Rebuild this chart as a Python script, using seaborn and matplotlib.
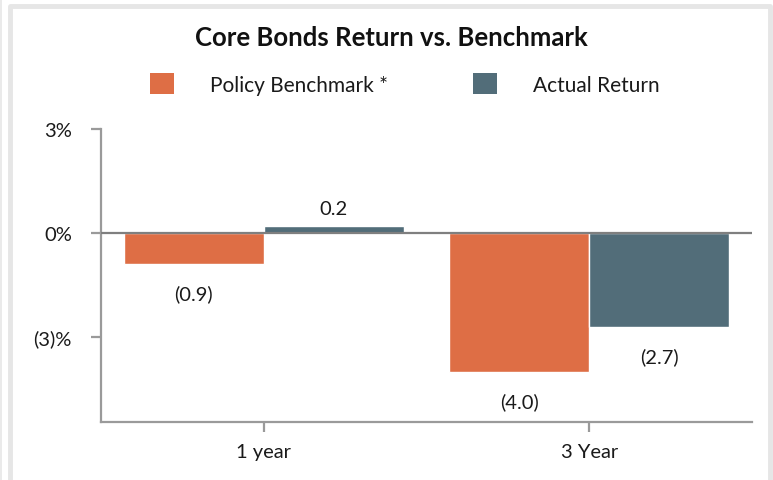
import numpy as np
import pandas as pd
import matplotlib
matplotlib.use('Agg')
import matplotlib.pyplot as plt
import seaborn as sns
from matplotlib.patches import Patch
from matplotlib.lines import Line2D

# chart data
periods = ['1 year', '3 Year']
series_names = ['Policy Benchmark *', 'Actual Return']
benchmark = [-0.9, -4.0]
actual = [0.2, -2.7]
y_ticks = [3, 0, -3]
y_tick_labels = ['3%', '0%', '(3)%']
colors = ['#DE6E45', '#526D79']

df = pd.DataFrame({
    'Period': periods * 2,
    'Series': [series_names[0]] * 2 + [series_names[1]] * 2,
    'Return': benchmark + actual,
})

sns.set_style('white')
plt.rcParams['font.family'] = ['Lato', 'DejaVu Sans']

W, H = 773, 481
fig = plt.figure(figsize=(W / 100, H / 100), dpi=100)
ax = fig.add_axes([101 / W, 1 - 423 / H, (752 - 101) / W, (423 - 130) / H])

sns.barplot(data=df, x='Period', y='Return', hue='Series', order=periods,
            hue_order=series_names, palette=colors, width=0.86, gap=0,
            saturation=1, errorbar=None, legend=False, ax=ax)

ax.set_xlim(-0.5, 1.5)
ax.set_ylim(-5.45, 3)
ax.axhline(0, color='#7f7f7f', lw=1.6, zorder=3)

# value labels
for cont in ax.containers:
    for p in cont.patches:
        v = p.get_height()
        txt = f'{v:.1f}' if v >= 0 else f'({abs(v):.1f})'
        off = 13 if v >= 0 else -21
        ax.annotate(txt, (p.get_x() + p.get_width() / 2, v), xytext=(0, off),
                    textcoords='offset points', ha='center', va='center',
                    fontsize=14.5, color='#1a1a1a')

ax.set_yticks(y_ticks)
ax.set_yticklabels(y_tick_labels)
ax.set_xlabel('')
ax.set_ylabel('')
for s in ['top', 'right']:
    ax.spines[s].set_visible(False)
for s in ['left', 'bottom']:
    ax.spines[s].set_color('#9a9a9a')
    ax.spines[s].set_linewidth(1.6)
ax.tick_params(axis='y', length=7, width=1.6, color='#9a9a9a', pad=14,
               labelsize=14.5, labelcolor='#1a1a1a', left=True)
ax.tick_params(axis='x', length=7, width=1.6, color='#9a9a9a', pad=8,
               labelsize=14.5, labelcolor='#1a1a1a', bottom=True)

# title and legend
fig.text(391 / W, 1 - 38 / H, 'Core Bonds Return vs. Benchmark', ha='center',
         va='center', fontsize=18.5, fontweight='bold', color='#111111')
handles = [Patch(facecolor=c, edgecolor='none') for c in colors]
fig.legend(handles, series_names, loc='center', bbox_to_anchor=(405 / W, 1 - 85 / H),
           ncol=2, frameon=False, fontsize=15, handlelength=1.15, handleheight=1.15,
           handletextpad=1.73, columnspacing=4.1, labelcolor='#1a1a1a')

# frame around the panel
fig.add_artist(Line2D([10 / W, 10 / W, 770 / W, 770 / W],
                      [0, 1 - 7 / H, 1 - 7 / H, 0], transform=fig.transFigure,
                      color='#e6e6e6', lw=3.5))
fig.add_artist(Line2D([0.6 / W, 0.6 / W], [0, 1], transform=fig.transFigure,
                      color='#e6e6e6', lw=1.2))

fig.savefig('out.png', dpi=100)
